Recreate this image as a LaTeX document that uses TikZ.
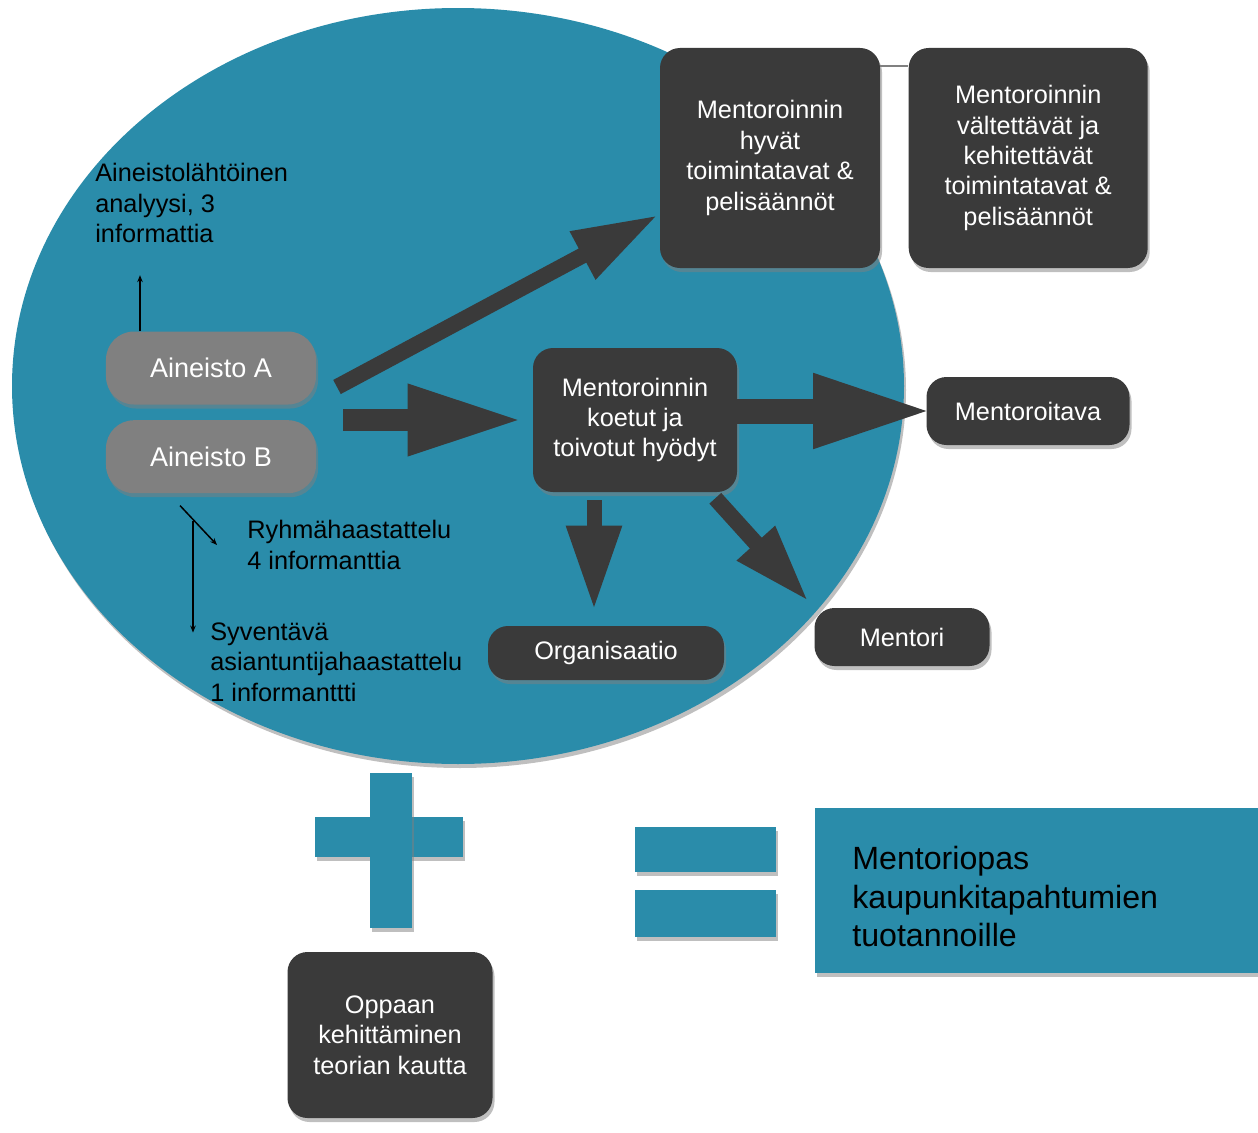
\documentclass[tikz,border=0pt]{standalone}
\usepackage{fontspec}
\setmainfont{Liberation Sans}
\usetikzlibrary{positioning,arrows.meta,shadows}
\definecolor{FeltBlue}{RGB}{42,140,170}
\definecolor{FeltDark}{RGB}{58,58,58}
\definecolor{FeltGrey}{RGB}{128,128,128}
\tikzset{
  felt shadow/.style={drop shadow={opacity=0.5, shadow xshift=0.4mm, shadow yshift=-0.8mm}},
  mento box/.style={
    fill=FeltDark,
    text=white,
    rounded corners=4mm,
    align=center,
    font=\fontsize{14.4}{17.3}\selectfont,
    inner sep=1.5mm,
    felt shadow
  },
  mento source/.style={mento box, fill=FeltGrey, rounded corners=5.6mm, font=\fontsize{15.4}{18}\selectfont, minimum width=42mm, minimum height=14.6mm},
  mento label/.style={anchor=west, inner sep=0pt, align=left, text=black, font=\fontsize{14.4}{17.3}\selectfont},
  mento result/.style={fill=FeltBlue, felt shadow, anchor=west, align=left, text=black, font=\fontsize{18.3}{22}\selectfont},
  mento arrow/.style n args={3}{draw=FeltDark, line width=#1, -{Triangle[length=#2, width=#3]}},
  mento pointer/.style={black, line width=0.3mm, -{Stealth[length=1.4mm, width=1.1mm]}}
}
\begin{document}
\begin{tikzpicture}[x=0.2mm, y=-0.2mm]
\useasboundingbox (0,0) rectangle (1258,1133);
\fill[FeltBlue, felt shadow] (458,386) ellipse [x radius=446, y radius=378];
\node[mento box, minimum width=44mm, minimum height=44mm] (hyvat) at (770,158) {Mentoroinnin\\hyvät\\toimintatavat \&\\pelisäännöt};
\node[mento box, right=5.6mm of hyvat, minimum width=47.8mm, minimum height=44mm] (valtet) {Mentoroinnin\\vältettävät ja\\kehitettävät\\toimintatavat \&\\pelisäännöt};
\node[mento box, minimum width=40.8mm, minimum height=28.8mm] (koetut) at (635,420) {Mentoroinnin\\koetut ja\\toivotut hyödyt};
\node[mento box, minimum width=40.6mm, minimum height=13.6mm] (mentoroitava) at (1028,411) {Mentoroitava};
\node[mento box, minimum width=47.2mm, minimum height=10.8mm] (organisaatio) at (606,653) {Organisaatio};
\node[mento box, minimum width=35mm, minimum height=11.6mm] (mentori) at (902,637) {Mentori};
\node[mento source] (aineistoA) at (211,368) {Aineisto A};
\node[mento source, below=3mm of aineistoA] (aineistoB) {Aineisto B};
\node[mento box, minimum width=41mm, minimum height=33.2mm] (oppaan) at (390,1035) {Oppaan\\kehittäminen\\teorian kautta};
\node[mento label] (analyysi) at (95,203) {Aineistolähtöinen\\analyysi, 3\\informattia};
\node[mento label] (ryhma) at (247,545) {Ryhmähaastattelu\\4 informanttia};
\node[mento label] (syventava) at (210,662) {Syventävä\\asiantuntijahaastattelu\\1 informanttti};
\node[mento result, minimum width=88.6mm, minimum height=33mm, text width=73.8mm, inner xsep=7.4mm] (opas) at (815,890) {\rule{0pt}{21pt}Mentoriopas\\kaupunkitapahtumien\\tuotannoille};
\fill[FeltBlue, felt shadow] (315,817) rectangle (463,857);
\fill[FeltBlue, felt shadow] (370,773) rectangle (412,928);
\fill[FeltBlue, felt shadow] (635,827) rectangle (776,872);
\fill[FeltBlue, felt shadow] (635,890) rectangle (776,937);
\coordinate (fromA) at (337,387);
\coordinate (fromAB) at (343,420);
\draw[mento arrow={3.2mm}{17.2mm}{10mm}, shorten >=0.3mm] (fromA) -- (hyvat.207);
\draw[mento arrow={4.4mm}{23mm}{13.2mm}, shorten >=2mm] (fromAB) -- (koetut.west);
\draw[mento arrow={5mm}{24mm}{13.6mm}, shorten >=-1.4mm] (koetut.east |- mentoroitava.west) -- (mentoroitava.west);
\draw[mento arrow={3mm}{16.8mm}{10.4mm}, shorten <=1.6mm, shorten >=3.2mm] ([xshift=-8.2mm]koetut.south) -- ([xshift=-8.2mm]koetut.south |- organisaatio.north);
\draw[mento arrow={3.2mm}{15.8mm}{9.4mm}, shorten <=1.6mm, shorten >=1.6mm] (koetut.-44) -- (mentori.north west);
\draw[FeltGrey, line width=0.4mm] ([yshift=-3.6mm]hyvat.north east) -- ([yshift=-3.6mm]valtet.north west);
\draw[mento pointer] ([xshift=-14.2mm]aineistoA.north) -- ++(0,-56);
\draw[mento pointer] ([xshift=-6.2mm,yshift=-2.4mm]aineistoB.south) -- ([xshift=-6mm]ryhma.west);
\draw[mento pointer] ([xshift=-3.6mm,yshift=-5.4mm]aineistoB.south) -- ++(0,112);
\end{tikzpicture}
\end{document}
